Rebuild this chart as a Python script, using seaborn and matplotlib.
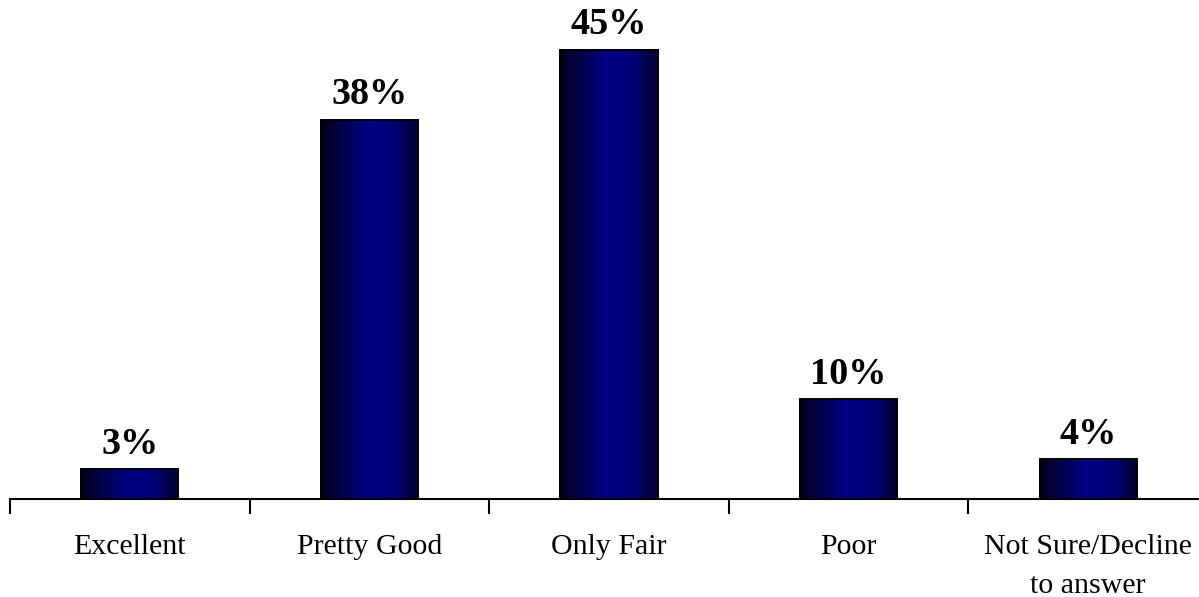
import numpy as np
import pandas as pd
import matplotlib
matplotlib.use("Agg")
import matplotlib.pyplot as plt
import seaborn as sns
from matplotlib.colors import LinearSegmentedColormap

categories = ["Excellent", "Pretty Good", "Only Fair", "Poor", "Not Sure/Decline\nto answer"]
values = [3, 38, 45, 10, 4]
value_labels = ["3%", "38%", "45%", "10%", "4%"]

sns.set_theme(style="white")
plt.rcParams['font.family'] = ['Liberation Serif', 'DejaVu Serif']

W, H = 1199, 597
fig = plt.figure(figsize=(W / 100, H / 100), dpi=100)
ax = fig.add_axes([10 / W, 98 / H, 1198 / W, 499 / H])

df = pd.DataFrame({"cat": categories, "val": values})
sns.barplot(data=df, x="cat", y="val", ax=ax, color="#000080", width=0.405,
            edgecolor="black", linewidth=1.3, saturation=1)

cmap = LinearSegmentedColormap.from_list(
    "bar", [(0.0, "#000020"), (0.12, "#000038"), (0.45, "#000082"),
            (0.75, "#000075"), (1.0, "#00002c")])
grad = np.linspace(0, 1, 256).reshape(1, -1)
for p in list(ax.patches):
    x0, y0 = p.get_x(), p.get_y()
    w, h = p.get_width(), p.get_height()
    im = ax.imshow(grad, cmap=cmap, aspect="auto", extent=[x0, x0 + w, y0, y0 + h],
                   zorder=p.get_zorder() + 0.1, interpolation="bicubic")
    im.set_clip_path(p)
    ax.add_patch(plt.Rectangle((x0, y0), w, h, fill=False, edgecolor="black",
                               linewidth=1.3, zorder=p.get_zorder() + 0.2))

for i, (v, lab) in enumerate(zip(values, value_labels)):
    ax.text(i, v + 0.75, lab, ha="center", va="bottom", fontsize=27.5,
            fontweight="bold", color="black")

ax.set_xlim(-0.5, 4.5)
ax.set_ylim(0, 50)
ax.set_xlabel("")
ax.set_ylabel("")
ax.set_yticks([])
for s in ["top", "right", "left"]:
    ax.spines[s].set_visible(False)
ax.spines["bottom"].set_color("black")
ax.spines["bottom"].set_linewidth(1.5)
ax.set_xticks(np.arange(-0.5, 5.0, 1.0), minor=False)
ax.set_xticklabels([])
ax.set_xticks(np.arange(0, 5), minor=True)
ax.set_xticklabels(categories, minor=True, fontsize=21.5, linespacing=1.65)
ax.tick_params(axis="x", which="major", direction="out", length=11, width=1.5,
               color="black", bottom=True)
ax.tick_params(axis="x", which="minor", length=0, pad=25, colors="black")

fig.savefig("out.png", dpi=100)
